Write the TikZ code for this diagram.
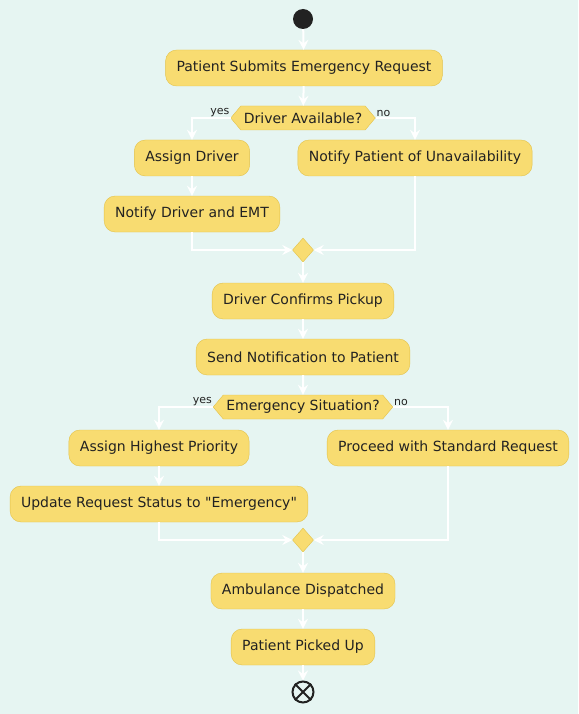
\documentclass[tikz,border=0pt]{standalone}
\usepackage{fontspec}
\setmainfont{DejaVu Sans}
\usetikzlibrary{arrows.meta,shapes.geometric,shapes.symbols}
\definecolor{bgcol}{HTML}{E6F5F2}
\definecolor{actfill}{HTML}{F8DC71}
\definecolor{actline}{HTML}{E3C249}
\definecolor{inkcol}{HTML}{222222}
\begin{document}
\begin{tikzpicture}[x=1pt,y=-1pt,
		act/.style={draw=actline,fill=actfill,rounded corners=11pt,minimum height=36pt,inner xsep=11pt,font=\fontsize{14}{16}\selectfont,text=inkcol},
		cond/.style={signal,signal to=west and east,signal pointer angle=100,draw=actline,fill=actfill,minimum height=24pt,inner xsep=3pt,inner ysep=0pt,font=\fontsize{14}{16}\selectfont,text=inkcol},
		merge/.style={diamond,draw=actline,fill=actfill,minimum width=21pt,minimum height=24pt,inner sep=0pt},
		flow/.style={draw=white,line width=2pt,-{Stealth[length=10pt,width=10pt,inset=3.5pt]}},
		branch/.style={font=\fontsize{11}{13}\selectfont,text=inkcol,inner sep=1pt}]
		\fill[bgcol] (0,0) rectangle (578,714);
		\useasboundingbox (0,0) rectangle (578,714);
		% first decision
		\node[circle,fill=inkcol,minimum size=20pt,inner sep=0pt] (start) at (303,19) {};
		\node[act] (submit) at (304,68) {Patient Submits Emergency Request};
		\node[cond] (avail) at (303,118) {Driver Available?};
		\node[act] (assign) at (192,158) {Assign Driver};
		\node[act] (notifyemt) at (192,214) {Notify Driver and EMT};
		\node[act] (unavail) at (415,158) {Notify Patient of Unavailability};
		\node[merge] (mergeA) at (303,250) {};
		\node[branch,anchor=south east] at (avail.west) {yes};
		\node[branch,anchor=south west] at (avail.east) {no};
		% second decision
		\node[act] (confirm) at (303,301) {Driver Confirms Pickup};
		\node[act] (sendnote) at (303,357) {Send Notification to Patient};
		\node[cond] (emerg) at (303,407) {Emergency Situation?};
		\node[act] (priority) at (159,448) {Assign Highest Priority};
		\node[act] (update) at (159,504) {Update Request Status to \textquotedbl Emergency\textquotedbl};
		\node[act] (standard) at (448,448) {Proceed with Standard Request};
		\node[merge] (mergeB) at (303,540) {};
		\node[branch,anchor=south east] at (emerg.west) {yes};
		\node[branch,anchor=south west] at (emerg.east) {no};
		\node[act] (dispatch) at (303,591) {Ambulance Dispatched};
		\node[act] (picked) at (303,647) {Patient Picked Up};
		\node[circle,draw=inkcol,line width=2pt,minimum size=21pt,inner sep=0pt] (stop) at (303,692) {};
		\draw[inkcol,line width=2pt] (stop.north west) -- (stop.south east) (stop.north east) -- (stop.south west);
		% connectors
		\draw[flow] (start) -- (submit);
		\draw[flow] (submit) -- (avail);
		\draw[flow] (avail.west) -| (assign.north);
		\draw[flow] (avail.east) -| (unavail.north);
		\draw[flow] (assign) -- (notifyemt);
		\draw[flow] (notifyemt.south) |- (mergeA.west);
		\draw[flow] (unavail.south) |- (mergeA.east);
		\draw[flow] (mergeA) -- (confirm);
		\draw[flow] (confirm) -- (sendnote);
		\draw[flow] (sendnote) -- (emerg);
		\draw[flow] (emerg.west) -| (priority.north);
		\draw[flow] (emerg.east) -| (standard.north);
		\draw[flow] (priority) -- (update);
		\draw[flow] (update.south) |- (mergeB.west);
		\draw[flow] (standard.south) |- (mergeB.east);
		\draw[flow] (mergeB) -- (dispatch);
		\draw[flow] (dispatch) -- (picked);
		\draw[flow] (picked) -- (stop);
	\end{tikzpicture}
\end{document}
